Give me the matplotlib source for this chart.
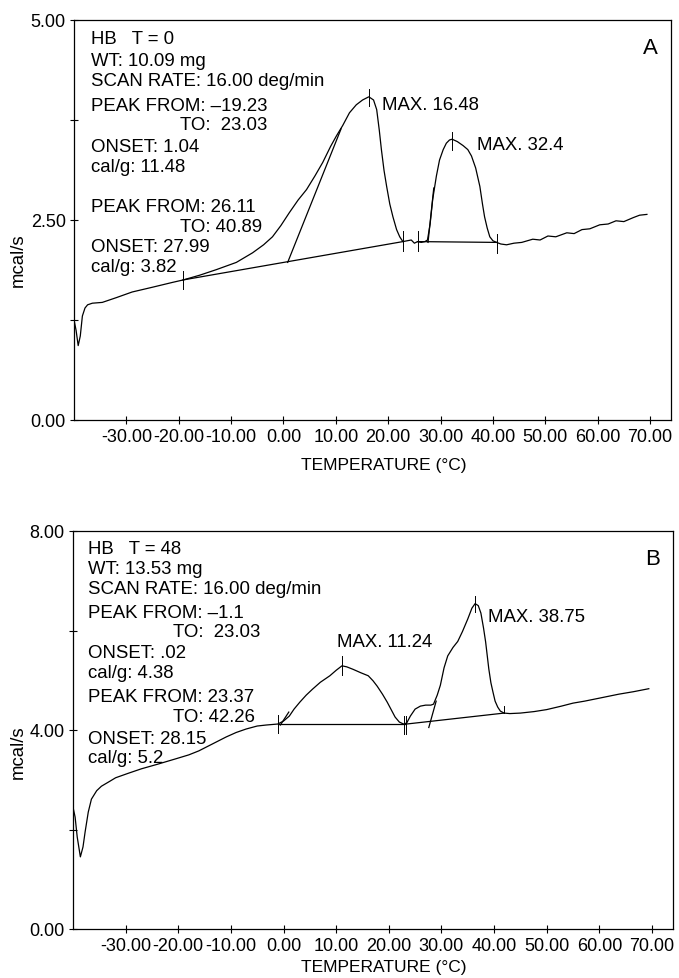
import matplotlib
matplotlib.use("Agg")
import matplotlib.pyplot as plt
from matplotlib.ticker import FixedLocator, FormatStrFormatter

plt.rcParams['font.family'] = ['Liberation Sans', 'DejaVu Sans']

W, H = 679, 979

# --- panel A: HB, T = 0 ---
temp_a = [-39.9, -39.6, -39.2, -38.8, -38.4, -37.9, -37.4, -36.5, -34.6, -31.9,
          -28.9, -25.0, -21.2, -19.2, -16.0, -12.8, -9.0, -5.9, -3.8, -2.1,
          -0.5, 1.1, 2.8, 4.4, 6.0, 7.5, 9.0, 10.1, 11.3, 12.6,
          13.9, 15.1, 16.3, 17.2, 17.8, 18.3, 18.7, 19.2, 19.7, 20.3,
          20.9, 21.6, 22.2, 22.8, 23.6, 24.4, 25.0, 25.6, 26.3, 27.0,
          27.5, 28.0, 28.5, 29.2, 29.8, 30.5, 31.1, 31.7, 32.2, 33.2,
          34.3, 35.2, 35.9, 36.7, 37.5, 38.0, 38.4, 38.9, 39.4, 40.0,
          40.7, 41.5, 42.6, 44.0, 45.5, 47.6, 49.0, 50.5, 52.0, 54.1,
          55.5, 57.0, 58.5, 60.4, 62.0, 63.5, 65.0, 66.8, 68.0, 69.4]
heat_a = [1.22, 1.12, 0.93, 1.05, 1.30, 1.40, 1.44, 1.46, 1.47, 1.53,
          1.60, 1.66, 1.72, 1.75, 1.81, 1.88, 1.97, 2.09, 2.19, 2.29,
          2.43, 2.59, 2.75, 2.88, 3.05, 3.22, 3.42, 3.55, 3.68, 3.84,
          3.94, 4.00, 4.04, 4.00, 3.88, 3.62, 3.38, 3.12, 2.92, 2.70,
          2.54, 2.38, 2.29, 2.23, 2.24, 2.25, 2.21, 2.23, 2.22, 2.23,
          2.25, 2.45, 2.76, 3.05, 3.25, 3.38, 3.46, 3.50, 3.51, 3.48,
          3.43, 3.38, 3.30, 3.15, 2.92, 2.70, 2.54, 2.40, 2.29, 2.24,
          2.22, 2.20, 2.19, 2.21, 2.22, 2.26, 2.25, 2.30, 2.29, 2.34,
          2.33, 2.38, 2.39, 2.44, 2.45, 2.49, 2.48, 2.53, 2.56, 2.57]
base_a = [[(-19.23, 1.75), (22.8, 2.23)],
          [(0.8, 1.97), (11.0, 3.64)],
          [(25.6, 2.23), (40.7, 2.22)],
          [(27.6, 2.22), (28.7, 2.90)]]
marks_a = [(-19.23, 1.64, 1.86), (16.3, 3.92, 4.14), (22.8, 2.11, 2.36),
           (25.6, 2.11, 2.36), (32.2, 3.38, 3.60), (40.7, 2.09, 2.32)]
info_a = ["HB   T = 0", "WT: 10.09 mg", "SCAN RATE: 16.00 deg/min",
          "PEAK FROM: \u201319.23", "TO:  23.03", "ONSET: 1.04", "cal/g: 11.48",
          "PEAK FROM: 26.11", "TO: 40.89", "ONSET: 27.99", "cal/g: 3.82"]
info_a_px = [(91, 40), (91, 61), (91, 81), (91, 107), (180, 126), (91, 147),
             (91, 167), (91, 207), (180, 227), (91, 247), (91, 267)]
max_a = [("MAX. 16.48", 382, 105), ("MAX. 32.4", 477, 145)]

# --- panel B: HB, T = 48 ---
temp_b = [-39.9, -39.6, -39.2, -38.6, -38.1, -37.7, -37.1, -36.5, -35.5, -34.6,
          -33.0, -31.9, -29.5, -27.0, -24.0, -20.5, -18.0, -16.1, -13.5, -10.9,
          -9.0, -7.1, -5.0, -3.3, -1.1, 0.0, 1.1, 2.0, 3.1, 4.3,
          5.5, 7.0, 8.8, 10.0, 11.1, 12.0, 13.2, 14.7, 16.1, 17.0,
          17.8, 18.8, 19.7, 20.5, 21.2, 22.0, 22.8, 23.4, 24.1, 25.0,
          26.0, 27.0, 28.0, 28.5, 29.2, 29.8, 30.5, 31.2, 32.2, 33.1,
          34.0, 35.0, 35.8, 36.4, 37.0, 37.5, 38.0, 38.4, 39.0, 39.4,
          39.8, 40.2, 40.7, 41.2, 41.9, 43.0, 45.0, 47.6, 50.0, 52.8,
          55.0, 57.2, 60.0, 63.7, 66.5, 69.4]
heat_b = [2.40, 2.25, 1.85, 1.45, 1.65, 1.95, 2.35, 2.61, 2.78, 2.87,
          2.97, 3.04, 3.13, 3.22, 3.31, 3.42, 3.50, 3.58, 3.72, 3.86,
          3.95, 4.02, 4.08, 4.10, 4.12, 4.18, 4.28, 4.42, 4.56, 4.70,
          4.82, 4.96, 5.09, 5.20, 5.29, 5.27, 5.22, 5.15, 5.09, 4.99,
          4.88, 4.72, 4.56, 4.40, 4.26, 4.16, 4.12, 4.14, 4.28, 4.42,
          4.48, 4.50, 4.50, 4.52, 4.70, 4.90, 5.25, 5.49, 5.66, 5.78,
          5.98, 6.23, 6.45, 6.54, 6.50, 6.35, 6.05, 5.77, 5.23, 4.95,
          4.76, 4.58, 4.46, 4.38, 4.34, 4.33, 4.34, 4.37, 4.41, 4.48,
          4.54, 4.58, 4.64, 4.72, 4.77, 4.83]
base_b = [[(-1.1, 4.12), (23.0, 4.12)],
          [(-0.6, 4.10), (1.0, 4.36)],
          [(23.37, 4.12), (41.9, 4.34)],
          [(27.6, 4.05), (29.0, 4.58)]]
marks_b = [(-1.1, 3.94, 4.30), (11.1, 5.10, 5.48), (22.8, 3.92, 4.28),
           (23.3, 3.92, 4.28), (36.4, 6.37, 6.69), (41.9, 4.34, 4.48)]
info_b = ["HB   T = 48", "WT: 13.53 mg", "SCAN RATE: 16.00 deg/min",
          "PEAK FROM: \u20131.1", "TO:  23.03", "ONSET: .02", "cal/g: 4.38",
          "PEAK FROM: 23.37", "TO: 42.26", "ONSET: 28.15", "cal/g: 5.2"]
info_b_px = [(88, 549), (88, 570), (88, 590), (88, 614), (173, 633), (88, 654),
             (88, 674), (88, 698), (173, 718), (88, 739), (88, 759)]
max_b = [("MAX. 11.24", 337, 643), ("MAX. 38.75", 488, 617)]

x_ticks = [-30, -20, -10, 0, 10, 20, 30, 40, 50, 60, 70]


def fx(px):
    return px / W


def fy(py):
    return 1 - py / H


def draw_panel(ax, temp, heat, bases, marks, ymax, letter):
    ax.plot(temp, heat, color='black', lw=0.9)
    for seg in bases:
        ax.plot([p[0] for p in seg], [p[1] for p in seg], color='black', lw=0.9)
    for x, y0, y1 in marks:
        ax.plot([x, x], [y0, y1], color='black', lw=0.7)
    ax.set_xlim(-40, 74)
    ax.set_ylim(0, ymax)
    ax.xaxis.set_major_locator(FixedLocator(x_ticks))
    ax.xaxis.set_major_formatter(FormatStrFormatter('%.2f'))
    ax.yaxis.set_major_locator(FixedLocator([0, ymax / 2, ymax]))
    ax.yaxis.set_minor_locator(FixedLocator([ymax / 4, 3 * ymax / 4]))
    ax.yaxis.set_major_formatter(FormatStrFormatter('%.2f'))
    ax.tick_params(axis='both', which='both', direction='inout', length=6,
                   width=0.8, labelsize=13, pad=3)
    for s in ax.spines.values():
        s.set_linewidth(0.9)
    ax.text(0.978, 0.93, letter, transform=ax.transAxes, ha='right', va='center',
            fontsize=16)


fig = plt.figure(figsize=(W / 100, H / 100), dpi=100)

ax_a = fig.add_axes([fx(74), fy(421), fx(671) - fx(74), fy(21) - fy(421)])
draw_panel(ax_a, temp_a, heat_a, base_a, marks_a, 5.0, "A")
ax_b = fig.add_axes([fx(73), fy(930), fx(673) - fx(73), fy(532) - fy(930)])
draw_panel(ax_b, temp_b, heat_b, base_b, marks_b, 8.0, "B")

for lines, pos in [(info_a, info_a_px), (info_b, info_b_px)]:
    for s, (px, py) in zip(lines, pos):
        fig.text(fx(px), fy(py), s, fontsize=13.4, ha='left', va='center')

for s, px, py in max_a + max_b:
    fig.text(fx(px), fy(py), s, fontsize=13.4, ha='left', va='center')

fig.text(fx(384), fy(466), "TEMPERATURE (\u00b0C)", fontsize=12.5,
         ha='center', va='center')
fig.text(fx(384), fy(968), "TEMPERATURE (\u00b0C)", fontsize=12.5,
         ha='center', va='center')
fig.text(fx(18), fy(260), "mcal/s", fontsize=13.4, rotation=90,
         ha='center', va='center')
fig.text(fx(18), fy(752), "mcal/s", fontsize=13.4, rotation=90,
         ha='center', va='center')

fig.savefig("out.png", dpi=100)
